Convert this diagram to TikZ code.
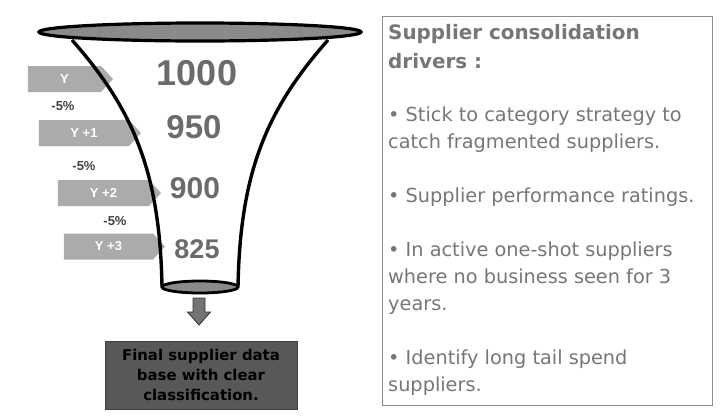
\documentclass[tikz,border=0pt]{standalone}
\usepackage{fontspec}
\setmainfont{DejaVu Sans}
\newfontfamily\arialfont{Liberation Sans}
\usetikzlibrary{shapes.symbols,positioning}
\definecolor{rimgray}{HTML}{8A8A8A}
\definecolor{taggray}{HTML}{ABABAB}
\definecolor{numgray}{HTML}{6B6B6B}
\definecolor{dropgray}{HTML}{424242}
\definecolor{boxgray}{HTML}{585858}
\definecolor{panelgray}{HTML}{8C8C8C}
\definecolor{textgray}{HTML}{767676}

\begin{document}
\begin{tikzpicture}[x=1pt, y=-1pt,
  yeartag/.style={signal, signal to=east, signal pointer angle=95, fill=taggray,
    text=white, inner sep=0pt, minimum height=26pt,
    font=\arialfont\bfseries\fontsize{13}{15}\selectfont},
  drop/.style={text=dropgray, font=\arialfont\bfseries\fontsize{13}{15}\selectfont},
  count/.style={text=numgray, font=\arialfont\bfseries\fontsize{#1}{#1}\selectfont},
  rim/.style={draw=black, line width=3.2pt, fill=rimgray},
  driver/.style={anchor=north west, inner sep=0pt, align=left, text=textgray,
    font=\fontsize{19.3}{27}\selectfont}]
  \useasboundingbox (0,0) rectangle (720,416);

  % year tags
  \node[yeartag, minimum width=85pt]  (y0) at (64.5,79)  {Y};
  \node[yeartag, minimum width=102pt] (y1) at (84,133)   {Y +1};
  \node[yeartag, minimum width=103pt] (y2) at (103.5,193) {Y +2};
  \node[yeartag, minimum width=101pt] (y3) at (108.5,246.5) {Y +3};
  \node[drop] (d1) at (63,106)  {-5\%};
  \node[drop] (d2) at (84,166)  {-5\%};
  \node[drop] (d3) at (115,221) {-5\%};

  % funnel
  \draw[line width=3.4pt] (72,40) .. controls (132,108) and (160,170) .. (162,287);
  \draw[line width=3.4pt] (328,40) .. controls (268,108) and (240,170) .. (238,287);
  \draw[rim] (200,32) ellipse [x radius=161, y radius=9];
  \draw[rim, line width=2.8pt] (200,287) ellipse [x radius=38, y radius=6];

  \node[count=36] (n0) at (197,73)  {1000};
  \node[count=33] (n1) at (194,127) {950};
  \node[count=30] (n2) at (195,188) {900};
  \node[count=27] (n3) at (197,249) {825};

  % result
  \draw[draw=black!80, fill=black!55, line width=0.8pt]
    (193,298) -- (205,298) -- (205,312) -- (210.5,312) -- (199,325)
    -- (187.5,312) -- (193,312) -- cycle;
  \node[draw=black!75, fill=boxgray, line width=0.8pt, minimum width=192pt,
    minimum height=68pt, align=center,
    font=\bfseries\fontsize{14.9}{20}\selectfont] (final) at (201,375)
    {Final supplier data\\base with clear\\classification.};

  % drivers panel
  \node[draw=panelgray, line width=1pt, minimum width=330pt, minimum height=389pt,
    inner sep=0pt] (panel) at (547,210.5) {};
  \node[driver, font=\bfseries\fontsize{19.9}{29}\selectfont] (title) at (388,24)
    {Supplier consolidation\\drivers :};
  \node[driver] (drv) at (388,107)
    {\textbullet{} Stick to category strategy to\\catch fragmented suppliers.\\[27pt]
     \textbullet{} Supplier performance ratings.\\[27pt]
     \textbullet{} In active one-shot suppliers\\where no business seen for 3\\years.\\[27pt]
     \textbullet{} Identify long tail spend\\suppliers.};
\end{tikzpicture}
\end{document}
